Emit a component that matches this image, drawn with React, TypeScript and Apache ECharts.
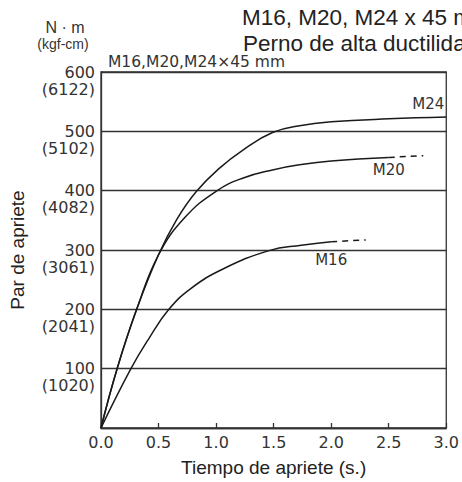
import React, { useEffect, useRef } from 'react';
import * as echarts from 'echarts';

const xTicks = [0, 0.5, 1, 1.5, 2, 2.5, 3];
const yTicksNm = [100, 200, 300, 400, 500, 600];
const yTicksKgf = ['(1020)', '(2041)', '(3061)', '(4082)', '(5102)', '(6122)'];

const m24: number[][] = [[0, 0], [0.14, 100], [0.31, 200], [0.5, 292], [0.66, 352], [0.83, 399], [1.03, 438], [1.23, 468], [1.49, 498], [1.74, 510], [2.0, 516], [2.5, 521], [3.0, 524]];
const m20Solid: number[][] = [[0, 0], [0.14, 100], [0.31, 200], [0.5, 292], [0.73, 355], [1.0, 399], [1.23, 421], [1.49, 435], [1.74, 444], [2.0, 450], [2.5, 456]];
const m20Dash: number[][] = [[2.5, 456], [2.8, 459]];
const m16Solid: number[][] = [[0, 0], [0.26, 100], [0.42, 152], [0.59, 200], [0.78, 235], [1.06, 268], [1.46, 299], [1.74, 308], [2.0, 314]];
const m16Dash: number[][] = [[2.0, 314], [2.3, 317]];

const seriesNames = ['M24', 'M20', 'M16'];

const TICK_FONT = 'DejaVu Sans';
const LABEL_FONT = 'Liberation Sans';

export default function App() {
  const ref = useRef<HTMLDivElement>(null);
  useEffect(() => {
    if (!ref.current) return;
    const chart = echarts.init(ref.current, undefined, { renderer: 'svg' });
    const lineStyle = { color: '#1a1a1a', width: 1.5 };
    const labelStyle = { show: true, color: '#333', fontSize: 15, fontFamily: TICK_FONT };
    const withLabel = (data: number[][], idx: number, name: string, position: string, offset: number[]) =>
      data.map((d, i) =>
        i === idx
          ? { value: d, label: { ...labelStyle, position, offset, formatter: name } }
          : { value: d, label: { show: false } }
      );
    const SMOOTH = 0.45;
    chart.setOption({
      animation: false,
      grid: { left: 96, right: 15, top: 72, bottom: 51, show: true, borderColor: '#333', borderWidth: 1.3 },
      xAxis: {
        type: 'value', min: 0, max: 3, interval: 0.5,
        axisLine: { show: true, lineStyle: { color: '#333', width: 1.3 } },
        axisTick: { show: true, inside: true, length: 5, lineStyle: { color: '#333', width: 1.3 } },
        splitLine: { show: false },
        axisLabel: {
          color: '#333', fontSize: 16, fontFamily: TICK_FONT, margin: 6,
          formatter: (v: number) => (xTicks.includes(v) ? v.toFixed(1) : ''),
        },
        name: 'Tiempo de apriete (s.)', nameLocation: 'middle', nameGap: 30,
        nameTextStyle: { color: '#222', fontSize: 19, fontFamily: LABEL_FONT },
      },
      yAxis: [
        {
          type: 'value', min: 0, max: 600, interval: 100,
          axisLine: { show: true, lineStyle: { color: '#333', width: 1.3 } },
          axisTick: { show: false },
          splitLine: { show: true, lineStyle: { color: '#333', width: 1.3 } },
          axisLabel: {
            color: '#333', fontSize: 16, fontFamily: TICK_FONT, margin: 6,
            formatter: (v: number) => (yTicksNm.includes(v) ? String(v) : ''),
          },
          name: 'Par de apriete', nameLocation: 'middle', nameGap: 74,
          nameTextStyle: { color: '#222', fontSize: 19, fontFamily: LABEL_FONT },
        },
        {
          type: 'value', min: 0, max: 600, interval: 100, position: 'left',
          axisLine: { show: false }, axisTick: { show: false }, splitLine: { show: false },
          axisLabel: {
            color: '#333', fontSize: 16, fontFamily: TICK_FONT, margin: 6,
            verticalAlign: 'top', padding: [9, 0, 0, 0],
            formatter: (v: number) => {
              const i = yTicksNm.indexOf(v);
              return i >= 0 ? yTicksKgf[i] : '';
            },
          },
        },
      ],
      graphic: [
        { type: 'text', x: 242, y: 17, style: { text: 'M16, M20, M24 x 45 mm', fontSize: 22.5, fontFamily: LABEL_FONT, fill: '#222', verticalAlign: 'middle' } },
        { type: 'text', x: 243, y: 43, style: { text: 'Perno de alta ductilidad', fontSize: 22.5, fontFamily: LABEL_FONT, fill: '#222', verticalAlign: 'middle' } },
        { type: 'text', x: 65, y: 27, style: { text: 'N · m', fontSize: 16, fontFamily: LABEL_FONT, fill: '#333', align: 'center', verticalAlign: 'middle' } },
        { type: 'text', x: 63, y: 44, style: { text: '(kgf-cm)', fontSize: 14, fontFamily: LABEL_FONT, fill: '#333', align: 'center', verticalAlign: 'middle' } },
        { type: 'text', x: 108, y: 62, style: { text: 'M16,M20,M24×45 mm', fontSize: 15.5, fontFamily: TICK_FONT, fill: '#333', verticalAlign: 'middle' } },
      ],
      series: [
        {
          name: seriesNames[0], type: 'line', smooth: SMOOTH, symbol: 'circle', symbolSize: 0, showSymbol: true,
          lineStyle, data: withLabel(m24, m24.length - 1, 'M24', 'top', [-18, -1]),
        },
        {
          name: seriesNames[1], type: 'line', smooth: SMOOTH, symbol: 'none', showSymbol: false,
          lineStyle, data: m20Solid,
        },
        {
          name: seriesNames[1] + '-dash', type: 'line', symbol: 'circle', symbolSize: 0, showSymbol: true,
          lineStyle: { ...lineStyle, type: [6, 5] }, data: withLabel(m20Dash, 0, 'M20', 'bottom', [0, 0]),
        },
        {
          name: seriesNames[2], type: 'line', smooth: SMOOTH, symbol: 'none', showSymbol: false,
          lineStyle, data: m16Solid,
        },
        {
          name: seriesNames[2] + '-dash', type: 'line', symbol: 'circle', symbolSize: 0, showSymbol: true,
          lineStyle: { ...lineStyle, type: [6, 5] }, data: withLabel(m16Dash, 0, 'M16', 'bottom', [0, 6]),
        },
      ],
    });
    return () => chart.dispose();
  }, []);
  return <div ref={ref} style={{ position: 'absolute', left: 0, top: 0, width: 462, height: 482 }} />;
}
